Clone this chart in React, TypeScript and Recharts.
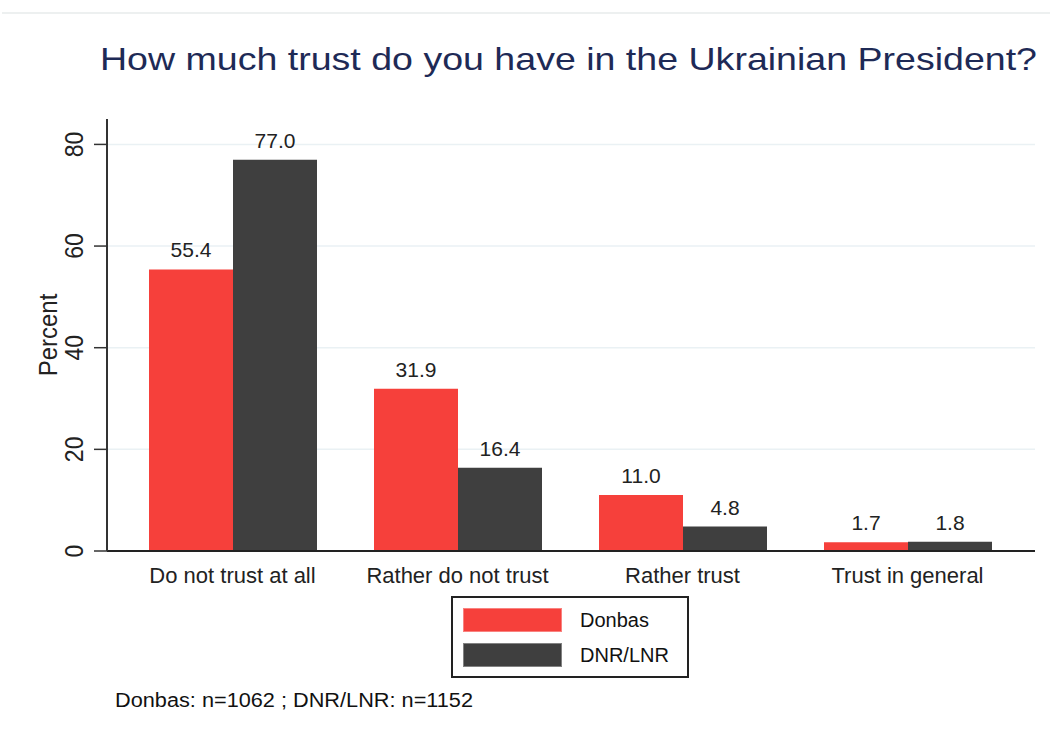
import { BarChart, Bar, XAxis, YAxis, CartesianGrid, Legend, LabelList } from "recharts";

const categories = ["Do not trust at all", "Rather do not trust", "Rather trust", "Trust in general"];
const donbas = [55.4, 31.9, 11.0, 1.7];
const dnrLnr = [77.0, 16.4, 4.8, 1.8];
const yTicks = [0, 20, 40, 60, 80];
const seriesOrder = ["Donbas", "DNR/LNR"];

const data = categories.map((c, i) => ({ category: c, donbas: donbas[i], dnrLnr: dnrLnr[i] }));

const FONT = '"Liberation Sans", Arial, sans-serif';
const RED = "#f6403b";
const DARK = "#3f3f3f";

function YTick({ x, y, payload }: any) {
  return (
    <g transform={`translate(${x - 9},${y})`}>
      <text transform="scale(1.15,1) rotate(-90)" textAnchor="middle" fontSize={23} fontFamily={FONT} fill="#222">
        {payload.value}
      </text>
    </g>
  );
}

function YLabel({ viewBox }: any) {
  const cx = viewBox.x + 57;
  const cy = viewBox.y + viewBox.height / 2;
  return (
    <g transform={`translate(${cx},${cy})`}>
      <text transform="scale(1.1,1) rotate(-90)" textAnchor="middle" fontSize={24} fontFamily={FONT} fill="#222">
        Percent
      </text>
    </g>
  );
}

function LegendBox({ payload }: any) {
  const items = [...(payload || [])].sort(
    (a: any, b: any) => seriesOrder.indexOf(a.value) - seriesOrder.indexOf(b.value)
  );
  return (
    <div
      style={{
        boxSizing: "border-box",
        width: 238,
        height: 82,
        border: "2px solid #222",
        background: "#fff",
        padding: "10px 0 0 10px",
        fontFamily: FONT,
        fontSize: 20,
        color: "#111",
      }}
    >
      {items.map((p: any, i: number) => (
        <div key={p.value} style={{ display: "flex", alignItems: "center", height: 24, marginBottom: i === 0 ? 11 : 0 }}>
          <div style={{ width: 99, height: 24, background: p.color, boxShadow: "inset 0 0 0 1px rgba(255,255,255,0.35)" }} />
          <span style={{ marginLeft: 18 }}>{p.value}</span>
        </div>
      ))}
    </div>
  );
}

export default function App() {
  return (
    <div style={{ position: "absolute", left: 0, top: 0, width: 1050, height: 733, background: "#fff" }}>
      <BarChart
        width={1050}
        height={733}
        data={data}
        margin={{ top: 119, right: 15, bottom: 152, left: 0 }}
        barSize={84}
        barGap={0}
      >
        <CartesianGrid vertical={false} horizontalValues={yTicks.slice(1)} stroke="#eaf1f4" strokeWidth={1.5} />
        <XAxis
          dataKey="category"
          height={30}
          padding={{ left: 13, right: 15 }}
          tickLine={false}
          tickMargin={10}
          axisLine={{ stroke: "#222", strokeWidth: 2 }}
          tick={{ fontSize: 22, fill: "#222", fontFamily: FONT }}
          interval={0}
        />
        <YAxis
          width={107}
          domain={[0, 85]}
          ticks={yTicks}
          tickSize={13}
          axisLine={{ stroke: "#333", strokeWidth: 2 }}
          tickLine={{ stroke: "#333", strokeWidth: 1.5 }}
          tick={<YTick />}
          label={<YLabel />}
        />
        <Legend
          layout="horizontal"
          verticalAlign="middle"
          align="center"
          content={<LegendBox />}
          wrapperStyle={{ left: 451, top: 596, width: 238, height: 82 }}
        />
        <Bar dataKey="donbas" name="Donbas" fill={RED} isAnimationActive={false}>
          <LabelList
            dataKey="donbas"
            position="top"
            offset={12}
            formatter={(v: any) => Number(v).toFixed(1)}
            style={{ fontSize: 21, fill: "#222", fontFamily: FONT }}
          />
        </Bar>
        <Bar dataKey="dnrLnr" name="DNR/LNR" fill={DARK} isAnimationActive={false}>
          <LabelList
            dataKey="dnrLnr"
            position="top"
            offset={12}
            formatter={(v: any) => Number(v).toFixed(1)}
            style={{ fontSize: 21, fill: "#222", fontFamily: FONT }}
          />
        </Bar>
      </BarChart>
      <svg width={1050} height={733} style={{ position: "absolute", left: 0, top: 0, pointerEvents: "none" }}>
        <line x1={2} y1={13} x2={1050} y2={13} stroke="#edf0f0" strokeWidth={2} />
        <text x={100} y={70} fontSize={32} fontFamily={FONT} fill="#1e2a56" textLength={937} lengthAdjust="spacingAndGlyphs">
          How much trust do you have in the Ukrainian President?
        </text>
        <text x={115} y={707} fontSize={20} fontFamily={FONT} fill="#111" textLength={358} lengthAdjust="spacingAndGlyphs">
          Donbas: n=1062 ; DNR/LNR: n=1152
        </text>
      </svg>
    </div>
  );
}
